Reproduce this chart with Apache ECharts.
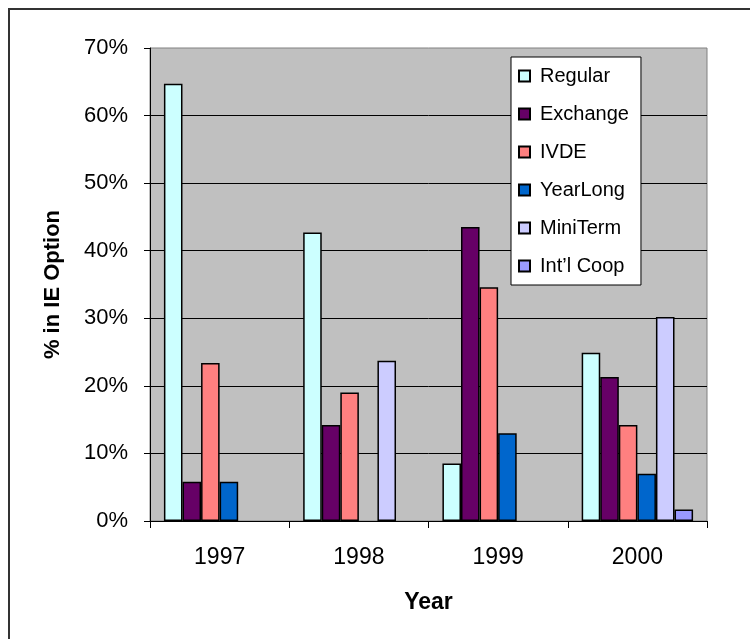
<!DOCTYPE html>
<html>
<head>
<meta charset="utf-8">
<title>% in IE Option by Year</title>
<script src="https://cdn.jsdelivr.net/npm/echarts@6/dist/echarts.min.js"></script>
<style>
  html, body { margin: 0; padding: 0; background: #ffffff; }
  #chart { width: 750px; height: 639px; }
</style>
</head>
<body>
<div id="chart"></div>
<script>
// Categories and tick labels
const years = ['1997', '1998', '1999', '2000'];
const yTicks = { min: 0, max: 70, step: 10 };

// Share of students in each IE option (percent); null = no bar
const regular   = [64.7, 42.7, 8.5, 24.9];
const exchange  = [5.8, 14.2, 43.5, 21.3];
const ivde      = [23.4, 19.0, 34.6, 14.2];
const yearLong  = [5.8, null, 13.0, 7.0];
const miniTerm  = [null, 23.7, null, 30.2];
const intlCoop  = [null, null, null, 1.7];

const seriesNames = ['Regular', 'Exchange', 'IVDE', 'YearLong', 'MiniTerm', 'Int\u2019l Coop'];
const seriesData = [regular, exchange, ivde, yearLong, miniTerm, intlCoop];
const seriesColors = ['#CCFFFF', '#660066', '#FF8080', '#0066CC', '#CCCCFF', '#9999FF'];

const FONT = '"Liberation Sans", Arial, sans-serif';

const chart = echarts.init(document.getElementById('chart'), null, { renderer: 'canvas' });

chart.setOption({
  animation: false,
  backgroundColor: '#ffffff',
  textStyle: { fontFamily: FONT, color: '#000' },
  grid: {
    left: 150, top: 48, right: 43, bottom: 118,
    show: true,
    backgroundColor: '#C0C0C0',
    borderColor: '#808080',
    borderWidth: 1
  },
  legend: {
    orient: 'vertical',
    left: 511, top: 57,
    padding: [9, 12, 9, 7],
    itemWidth: 11, itemHeight: 11,
    itemGap: 18,
    icon: 'rect',
    backgroundColor: '#ffffff',
    borderColor: '#000000',
    borderWidth: 1,
    textStyle: { fontFamily: FONT, fontSize: 20, color: '#000', padding: [0, 0, 0, 5] },
    data: seriesNames
  },
  xAxis: {
    type: 'category',
    data: years,
    name: 'Year',
    nameLocation: 'middle',
    nameGap: 70,
    nameTextStyle: { fontFamily: FONT, fontSize: 23, fontWeight: 'bold', color: '#000' },
    axisLine: { lineStyle: { color: '#000', width: 1 } },
    axisTick: { show: true, length: 7, lineStyle: { color: '#000' } },
    axisLabel: { fontFamily: FONT, fontSize: 23, color: '#000', margin: 25 },
    splitLine: { show: false }
  },
  yAxis: {
    type: 'value',
    min: yTicks.min, max: yTicks.max, interval: yTicks.step,
    name: '% in IE Option',
    nameLocation: 'middle',
    nameGap: 86,
    nameTextStyle: { fontFamily: FONT, fontSize: 22, fontWeight: 'bold', color: '#000' },
    axisLine: { show: true, lineStyle: { color: '#000', width: 1 } },
    axisTick: { show: true, length: 6, lineStyle: { color: '#000' } },
    axisLabel: { fontFamily: FONT, fontSize: 22, color: '#000', margin: 22, formatter: '{value}%' },
    splitLine: { show: true, showMinLine: false, showMaxLine: false, lineStyle: { color: '#000', width: 1 } }
  },
  series: seriesNames.map((name, i) => ({
    name: name,
    type: 'bar',
    data: seriesData[i],
    barGap: '0%',
    barCategoryGap: '20%',
    itemStyle: { color: seriesColors[i], borderColor: '#000', borderWidth: 1.5 }
  })),
  graphic: [
    // chart-area frame: top and left edges
    { type: 'line', shape: { x1: 8, y1: 9, x2: 750, y2: 9 }, style: { stroke: '#333', lineWidth: 2 }, silent: true },
    { type: 'line', shape: { x1: 9, y1: 8, x2: 9, y2: 639 }, style: { stroke: '#333', lineWidth: 2 }, silent: true }
  ]
});
</script>
</body>
</html>
